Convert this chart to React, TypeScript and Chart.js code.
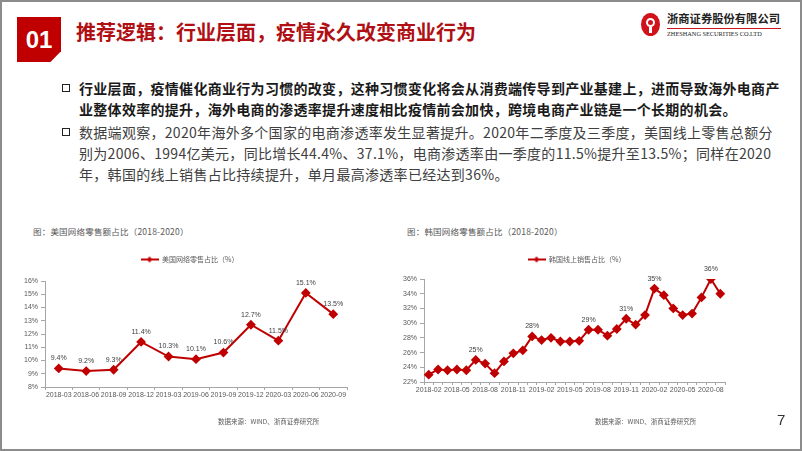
import React, { useEffect, useRef } from "react";
import { Chart, registerables } from "chart.js";

Chart.register(...registerables);

const RED = "#c00000";
const AXIS = "#a6a6a6";
const TICK_COLOR = "#595959";
const CJK = "'Noto Sans CJK SC', 'Noto Sans', sans-serif";
const LATIN = "'Liberation Sans', Arial, sans-serif";

// ---------- US chart data ----------
const usCategories = ["2018-03", "2018-06", "2018-09", "2018-12", "2019-03", "2019-06", "2019-09", "2019-12", "2020-03", "2020-06", "2020-09"];
const usValues = [9.4, 9.2, 9.3, 11.4, 10.3, 10.1, 10.6, 12.7, 11.5, 15.1, 13.5];
const usPointLabels = ["9.4%", "9.2%", "9.3%", "11.4%", "10.3%", "10.1%", "10.6%", "12.7%", "11.5%", "15.1%", "13.5%"];
const usSeriesName = "美国网络零售占比（%）";
const usYMin = 8;
const usYMax = 16;
const usYStep = 1;

// ---------- Korea chart data ----------
const krCategories = [
  "2018-02", "2018-03", "2018-04", "2018-05", "2018-06", "2018-07", "2018-08", "2018-09", "2018-10", "2018-11", "2018-12",
  "2019-01", "2019-02", "2019-03", "2019-04", "2019-05", "2019-06", "2019-07", "2019-08", "2019-09", "2019-10", "2019-11", "2019-12",
  "2020-01", "2020-02", "2020-03", "2020-04", "2020-05", "2020-06", "2020-07", "2020-08", "2020-09",
];
const krValues = [
  23.0, 23.7, 23.6, 23.7, 23.6, 25.0, 24.5, 23.2, 24.8, 25.9, 26.3,
  28.2, 27.7, 28.0, 27.5, 27.5, 27.6, 29.1, 29.1, 28.3, 29.2, 30.6, 29.8,
  31.1, 34.7, 33.8, 32.0, 31.1, 31.3, 33.5, 36.0, 34.0,
];
const krLabelIndex = [5, 11, 17, 21, 24, 30];
const krLabelText = ["25%", "28%", "29%", "31%", "35%", "36%"];
const krSeriesName = "韩国线上销售占比（%）";
const krYMin = 22;
const krYMax = 36;
const krYStep = 2;
const krTickEvery = 3;

const pointLabelPlugin = {
  id: "pointLabels",
  afterDatasetsDraw(chart: any, _args: any, opts: any) {
    const labels: (string | null)[] = opts.labels || [];
    const meta = chart.getDatasetMeta(0);
    const ctx = chart.ctx;
    ctx.save();
    ctx.font = `7px ${LATIN}`;
    ctx.fillStyle = "#404040";
    ctx.textAlign = "center";
    ctx.textBaseline = "middle";
    meta.data.forEach((pt: any, i: number) => {
      const t = labels[i];
      if (t) ctx.fillText(t, pt.x, pt.y - 10);
    });
    ctx.restore();
  },
};

// nudges the legend box after layout so it sits where the reference has it
const legendShiftPlugin = {
  id: "legendShift",
  afterLayout(chart: any, _args: any, opts: any) {
    const l = chart.legend;
    if (!l) return;
    const dx = opts.dx || 0;
    const dy = opts.dy || 0;
    l.left += dx;
    l.right += dx;
    l.top += dy;
    l.bottom += dy;
  },
};

function legendImage() {
  const c = document.createElement("canvas");
  c.width = 18;
  c.height = 8;
  const ctx = c.getContext("2d")!;
  ctx.strokeStyle = RED;
  ctx.lineWidth = 2;
  ctx.beginPath();
  ctx.moveTo(0, 4);
  ctx.lineTo(18, 4);
  ctx.stroke();
  ctx.fillStyle = RED;
  ctx.beginPath();
  ctx.moveTo(9, 1);
  ctx.lineTo(12, 4);
  ctx.lineTo(9, 7);
  ctx.lineTo(6, 4);
  ctx.closePath();
  ctx.fill();
  return c;
}

type ChartSpec = {
  categories: string[];
  values: number[];
  name: string;
  pointLabels: (string | null)[];
  yMin: number;
  yMax: number;
  yStep: number;
  xLabelEvery: number;
  yAxisWidth: number;
  legendDx: number;
  legendDy: number;
  padding: { top: number; right: number; bottom: number; left: number };
};

function LineChart({ spec, left, top, width, height }: { spec: ChartSpec; left: number; top: number; width: number; height: number }) {
  const ref = useRef<HTMLCanvasElement>(null);
  useEffect(() => {
    const img = legendImage();
    const chart = new Chart(ref.current!, {
      type: "line",
      data: {
        labels: spec.categories,
        datasets: [
          {
            label: spec.name,
            data: spec.values,
            borderColor: RED,
            backgroundColor: RED,
            borderWidth: 2,
            pointStyle: "rectRot",
            pointRadius: 3.5,
            pointBackgroundColor: RED,
            pointBorderColor: RED,
            tension: 0,
          },
        ],
      },
      options: {
        animation: false,
        responsive: false,
        layout: { padding: spec.padding },
        plugins: {
          tooltip: { enabled: false },
          legend: {
            display: true,
            position: "top",
            labels: {
              usePointStyle: true,
              pointStyleWidth: 18,
              boxHeight: 7,
              padding: 8,
              color: TICK_COLOR,
              font: { size: 7, family: CJK },
              generateLabels: (c: any) =>
                (Chart.defaults.plugins.legend.labels as any).generateLabels(c).map((l: any) => ({ ...l, pointStyle: img })),
            },
          },
          pointLabels: { labels: spec.pointLabels },
          legendShift: { dx: spec.legendDx, dy: spec.legendDy },
        } as any,
        scales: {
          x: {
            type: "category",
            offset: true,
            border: { display: true, color: AXIS, width: 1 },
            grid: { display: true, drawOnChartArea: false, drawTicks: true, tickLength: 3, color: AXIS, offset: true },
            ticks: {
              autoSkip: false,
              maxRotation: 0,
              padding: 1,
              color: TICK_COLOR,
              font: { size: 7, family: LATIN },
              callback: (_v: any, i: number) => (i % spec.xLabelEvery === 0 ? spec.categories[i] : ""),
            },
            afterFit: (s: any) => {
              s.height = 20;
            },
          },
          y: {
            min: spec.yMin,
            max: spec.yMax,
            border: { display: true, color: AXIS, width: 1 },
            grid: { display: true, drawOnChartArea: false, drawTicks: true, tickLength: 4, color: AXIS },
            ticks: {
              stepSize: spec.yStep,
              padding: 3,
              color: TICK_COLOR,
              font: { size: 7, family: LATIN },
              callback: (v: any) => `${Number(v).toFixed(0)}%`,
            },
            afterFit: (s: any) => {
              s.width = spec.yAxisWidth;
            },
          },
        },
      },
      plugins: [pointLabelPlugin, legendShiftPlugin],
    } as any);
    return () => chart.destroy();
  }, []);
  return (
    <canvas
      ref={ref}
      width={width}
      height={height}
      style={{ position: "absolute", left, top, width, height }}
    />
  );
}

const usSpec: ChartSpec = {
  categories: usCategories,
  values: usValues,
  name: usSeriesName,
  pointLabels: usPointLabels,
  yMin: usYMin,
  yMax: usYMax,
  yStep: usYStep,
  xLabelEvery: 1,
  yAxisWidth: 45,
  legendDx: 16,
  legendDy: -8,
  padding: { top: 16, right: 33, bottom: 13, left: 0 },
};

const krPointLabels: (string | null)[] = krCategories.map((_, i) => {
  const k = krLabelIndex.indexOf(i);
  return k >= 0 ? krLabelText[k] : null;
});

const krSpec: ChartSpec = {
  categories: krCategories,
  values: krValues,
  name: krSeriesName,
  pointLabels: krPointLabels,
  yMin: krYMin,
  yMax: krYMax,
  yStep: krYStep,
  xLabelEvery: krTickEvery,
  yAxisWidth: 44,
  legendDx: 24,
  legendDy: -6,
  padding: { top: 14, right: 75, bottom: 18, left: 0 },
};

const bullet1 = ["行业层面，疫情催化商业行为习惯的改变，这种习惯变化将会从消费端传导到产业基建上，进而导致海外电商产", "业整体效率的提升，海外电商的渗透率提升速度相比疫情前会加快，跨境电商产业链是一个长期的机会。"];
const bullet2 = [
  "数据端观察，2020年海外多个国家的电商渗透率发生显著提升。2020年二季度及三季度，美国线上零售总额分",
  "别为2006、1994亿美元，同比增长44.4%、37.1%，电商渗透率由一季度的11.5%提升至13.5%；同样在2020",
  "年，韩国的线上销售占比持续提升，单月最高渗透率已经达到36%。",
];

const abs = (left: number, top: number, extra: React.CSSProperties = {}): React.CSSProperties => ({
  position: "absolute",
  left,
  top,
  whiteSpace: "nowrap",
  ...extra,
});

export default function App() {
  return (
    <div style={{ position: "fixed", left: 0, top: 0, width: 802, height: 451, background: "#fff", overflow: "hidden", fontFamily: CJK }}>
      {/* 01 block */}
      <div
        style={abs(17, 17, {
          width: 44,
          height: 45,
          background: RED,
          clipPath: "polygon(0 0, 100% 0, 100% 76%, 76% 100%, 0 100%)",
          color: "#fff",
          fontFamily: LATIN,
          fontWeight: 700,
          fontSize: 24,
          lineHeight: "45px",
          textAlign: "center",
        })}
      >
        01
      </div>
      <div style={abs(76, 20, { fontSize: 20, fontWeight: 700, color: "#b00f14", lineHeight: "24px" })}>
        推荐逻辑：行业层面，疫情永久改变商业行为
      </div>

      {/* logo */}
      <div style={abs(641, 13, { width: 19, height: 23, borderRadius: "50%", background: "#d0131b" })}>
        <div style={abs(5, 5, { width: 9, height: 9, borderRadius: "50%", border: "2px solid #fff", boxSizing: "border-box" })} />
        <div style={abs(8, 14, { width: 3, height: 6, background: "#fff" })} />
      </div>
      <div style={abs(667, 11, { fontSize: 11.3, fontWeight: 700, color: "#222", lineHeight: "15px" })}>浙商证券股份有限公司</div>
      <div style={abs(667, 28, { width: 114, height: 1, background: "#d0131b" })} />
      <div style={abs(667, 30, { fontSize: 6.3, fontFamily: "'Liberation Serif', serif", color: "#222", lineHeight: "8px" })}>
        ZHESHANG SECURITIES CO.LTD
      </div>

      {/* bullets */}
      <div style={abs(62, 84, { width: 8, height: 8, border: "1.5px solid #222", boxSizing: "border-box" })} />
      {bullet1.map((t, i) => (
        <div key={"b1" + i} style={abs(79, 78 + i * 21, { fontSize: 14, fontWeight: 700, color: "#1a1a1a", lineHeight: "20px", letterSpacing: 0.3 })}>
          {t}
        </div>
      ))}
      <div style={abs(62, 128, { width: 8, height: 8, border: "1.5px solid #222", boxSizing: "border-box" })} />
      {bullet2.map((t, i) => (
        <div key={"b2" + i} style={abs(79, 122 + i * 21, { fontSize: 14, color: "#404040", lineHeight: "20px", letterSpacing: 0.3 })}>
          {t}
        </div>
      ))}

      {/* chart titles */}
      <div style={abs(33, 225, { fontSize: 8.5, color: "#595959", lineHeight: "12px", letterSpacing: 0.2 })}>图：美国网络零售额占比（2018-2020）</div>
      <div style={abs(407, 225, { fontSize: 8.5, color: "#595959", lineHeight: "12px", letterSpacing: 0.2 })}>图：韩国网络零售额占比（2018-2020）</div>

      <LineChart spec={usSpec} left={0} top={240} width={380} height={180} />
      <LineChart spec={krSpec} left={380} top={240} width={420} height={180} />

      {/* sources */}
      <div style={abs(218, 416, { fontSize: 6.5, color: "#595959", lineHeight: "10px" })}>数据来源：WIND、浙商证券研究所</div>
      <div style={abs(595, 416, { fontSize: 6.5, color: "#595959", lineHeight: "10px" })}>数据来源：WIND、浙商证券研究所</div>
      <div style={abs(777, 411, { fontSize: 15, fontFamily: LATIN, color: "#333", lineHeight: "18px" })}>7</div>

      {/* frame */}
      <div style={{ position: "absolute", inset: 0, border: "2px solid #8c8c8c", pointerEvents: "none" }} />
    </div>
  );
}
